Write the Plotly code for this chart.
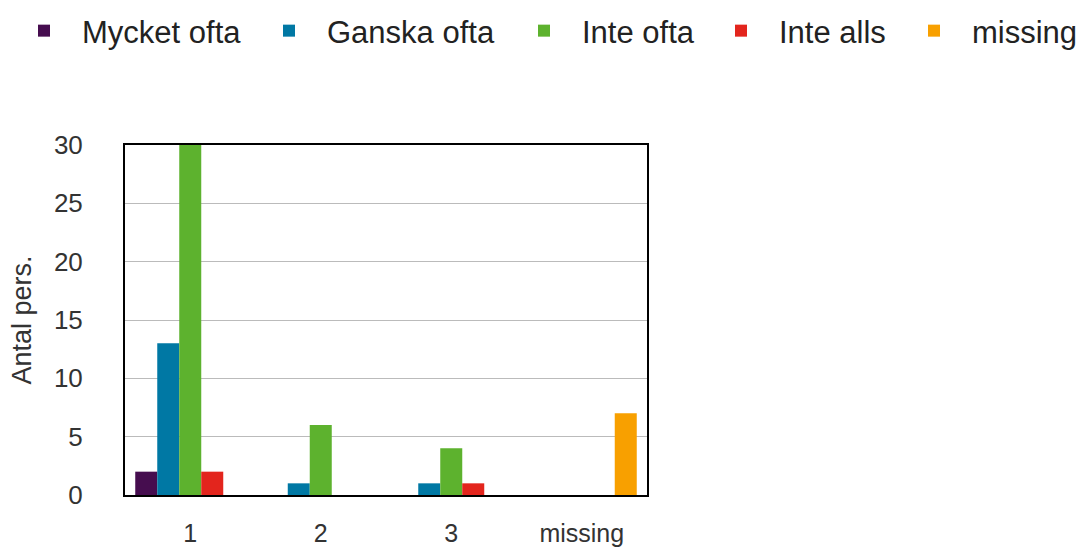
import plotly.graph_objects as go

categories = ["1", "2", "3", "missing"]
series_names = ["Mycket ofta", "Ganska ofta", "Inte ofta", "Inte alls", "missing"]
mycket_ofta = [2, 0, 0, 0]
ganska_ofta = [13, 1, 1, 0]
inte_ofta = [30, 6, 4, 0]
inte_alls = [2, 0, 1, 0]
missing = [0, 0, 0, 7]
colors = ["#460d4f", "#0078a4", "#5db22e", "#e3251d", "#f8a000"]
y_ticks = [0, 5, 10, 15, 20, 25, 30]

W, H = 1082, 547
L, R, T, B = 125, 435, 145, 52

# legend symbol centres (px from left)
legend_sym_px = [43, 288, 543, 740, 933]
IW = 66

fig = go.Figure()
all_series = [mycket_ofta, ganska_ofta, inte_ofta, inte_alls, missing]
for i, (name, vals, col) in enumerate(zip(series_names, all_series, colors)):
    lg = "legend" if i == 0 else f"legend{i+1}"
    fig.add_trace(go.Bar(x=categories, y=vals, name=name, showlegend=True,
                         marker=dict(color=col, line=dict(width=0)), legend=lg))

layout_legends = {}
for i, px in enumerate(legend_sym_px):
    key = "legend" if i == 0 else f"legend{i+1}"
    layout_legends[key] = dict(
        xref="container", yref="container",
        x=(px - IW / 2 - 4) / W, xanchor="left",
        y=1 - 31 / H, yanchor="middle",
        orientation="h", itemwidth=IW,
        font=dict(family="Liberation Sans, Arial", size=31, color="#222222"),
        bgcolor="rgba(0,0,0,0)",
    )

fig.update_layout(
    width=W, height=H, showlegend=True,
    margin=dict(l=L, r=R, t=T, b=B, autoexpand=False),
    plot_bgcolor="white", paper_bgcolor="white",
    barmode="group", bargap=0.157, bargroupgap=0,
    font=dict(family="Liberation Sans, Arial", color="#333333"),
    xaxis=dict(showline=True, linecolor="black", linewidth=2, mirror=True, ticks="",
               tickfont=dict(size=25, color="#333333"), showgrid=False, ticklabelstandoff=15),
    yaxis=dict(range=[0, 30], tickvals=y_ticks, showline=True, linecolor="black", linewidth=2, mirror=True,
               gridcolor="#bbbbbb", gridwidth=1, ticks="", tickfont=dict(size=26, color="#333333"),
               ticklabelstandoff=35,
               title=dict(text="Antal pers.", font=dict(size=27, color="#333333"), standoff=14),
               zeroline=False),
    **layout_legends,
)

fig.write_html("out.html", config={"displayModeBar": False},
               post_script="document.body.style.margin='0';document.body.style.overflow='hidden';")
